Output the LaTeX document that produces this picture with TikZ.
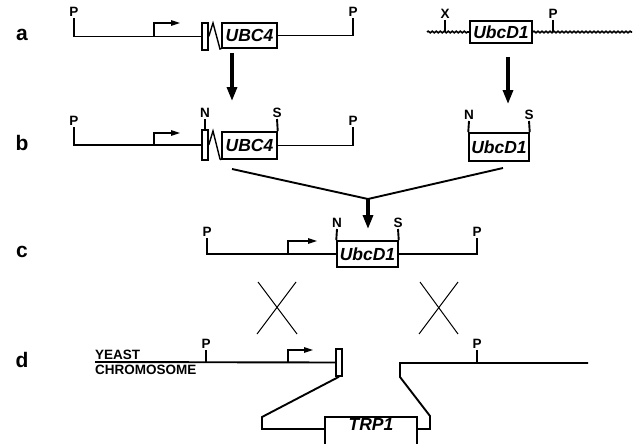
\documentclass[tikz,border=0pt]{standalone}
\usepackage{fontspec}
\setmainfont{Liberation Sans}
\usepackage{tikz}
\usetikzlibrary{arrows.meta, decorations.pathmorphing}

\newcommand{\genefont}{\fontsize{17.5}{19}\selectfont\bfseries\itshape}
\newcommand{\sitefont}{\fontsize{13.5}{15}\selectfont\bfseries}

\begin{document}
\begin{tikzpicture}[x=1pt, y=-1pt,
    dna/.style={line width=1.9pt},
    genebox/.style={draw, line width=1.5pt, inner sep=0pt, font=\genefont},
    exonbox/.style={draw, line width=1.5pt, inner sep=0pt, minimum width=6pt},
    site/.style={font=\sitefont, inner sep=1.2pt, anchor=south},
    rowlbl/.style={font=\fontsize{21}{23}\selectfont\bfseries},
    chromlbl/.style={font=\fontsize{13.5}{15}\selectfont\bfseries, inner sep=0pt},
    prom/.style={line width=1.2pt, -{Triangle[length=9pt,width=5.5pt]}},
    bigarrow/.style={line width=3.2pt, -{Triangle[length=14pt,width=10pt]}},
    cross/.style={line width=1pt},
    wavy/.style={line width=1.6pt, decorate, decoration={snake, segment length=4pt, amplitude=0.8pt}},
    zig/.style={line width=1.4pt},
  ]
  \path[use as bounding box] (0,0) rectangle (634,444);
  \clip (0,0) rectangle (634,444);

  % row labels
  \node[rowlbl] (lbla) at (22,35) {a};
  \node[rowlbl] (lblb) at (22,143) {b};
  \node[rowlbl] (lblc) at (22,252) {c};
  \node[rowlbl] (lbld) at (22,360) {d};

  % a: UBC4 locus
  \coordinate (pa1) at (74,18);
  \coordinate (pa2) at (353,18);
  \node[exonbox, minimum height=27pt] (exa) at (205,36.5) {};
  \node[genebox, minimum width=55pt, minimum height=25pt] (ubca) at (249.5,35.5) {UBC4};
  \draw[dna] (pa1) |- (exa.west);
  \draw[dna] (ubca.east) -| (pa2);
  \draw[zig] (exa.east) -- (213,23) -- (220,49) -- (ubca.south west);
  \node[site] (pa1t) at (pa1) {P};
  \node[site] (pa2t) at (pa2) {P};
  \coordinate (proma) at (154,36);
  \draw[prom] (proma) -- ++(0,-13) -- ++(26,0);

  % a: UbcD1 genomic
  \coordinate (wl) at (427,32);
  \coordinate (wr) at (632,32);
  \node[genebox, minimum width=62pt, minimum height=22pt] (dra) at (501,32) {UbcD1};
  \draw[wavy] (wl) -- (dra.west);
  \draw[wavy] (dra.east) -- (wr);
  \coordinate (xa) at (445,20);
  \coordinate (pa3) at (553,20);
  \draw[dna] (xa) -- (xa |- wl);
  \draw[dna] (pa3) -- (pa3 |- wl);
  \node[site] (xat) at (xa) {X};
  \node[site] (pa3t) at (pa3) {P};

  % a -> b
  \coordinate (arl1) at (232,53);
  \coordinate (arl2) at (232,101);
  \coordinate (arr1) at (508,57);
  \coordinate (arr2) at (508,104);
  \draw[bigarrow] (arl1) -- (arl2);
  \draw[bigarrow] (arr1) -- (arr2);

  % b: UBC4 with sites
  \coordinate (pb1) at (74,127);
  \coordinate (pb2) at (353,127);
  \node[exonbox, minimum height=30pt] (exb) at (205,145) {};
  \node[genebox, minimum width=55pt, minimum height=27pt] (ubcb) at (249.5,145.5) {UBC4};
  \draw[dna] (pb1) |- (exb.west);
  \draw[dna] (ubcb.east) -| (pb2);
  \draw[zig] (exb.east) -- (213,131) -- (220,159) -- (ubcb.south west);
  \node[site] (pb1t) at (pb1) {P};
  \node[site] (pb2t) at (pb2) {P};
  \coordinate (promb) at (154,145);
  \draw[prom] (promb) -- ++(0,-12) -- ++(26,0);
  \coordinate (nb) at (205,119);
  \coordinate (sb) at (277,119);
  \draw[dna] (exb.north) -- (nb);
  \draw[dna] (ubcb.north east) -- (sb);
  \node[site] (nbt) at (nb) {N};
  \node[site] (sbt) at (sb) {S};

  % b: UbcD1 fragment
  \node[genebox, minimum width=60pt, minimum height=28pt] (drb) at (499,147) {UbcD1};
  \coordinate (nb2) at (469,121);
  \coordinate (sb2) at (529,121);
  \draw[dna] (drb.north west) -- (nb2);
  \draw[dna] (drb.north east) -- (sb2);
  \node[site] (nb2t) at (nb2) {N};
  \node[site] (sb2t) at (sb2) {S};

  % b -> c
  \coordinate (mgl) at (232,169);
  \coordinate (mgr) at (503,168);
  \coordinate (mg) at (368,199);
  \coordinate (mge) at (368,229);
  \draw[dna] (mgl) -- (mg) -- (mgr);
  \draw[bigarrow] (mg) -- (mge);

  % c: replacement construct
  \coordinate (pc1) at (207,238);
  \coordinate (pc2) at (477,238);
  \node[genebox, minimum width=61pt, minimum height=26pt] (drc) at (367.5,254) {UbcD1};
  \draw[dna] (pc1) |- (drc.west);
  \draw[dna] (drc.east) -| (pc2);
  \node[site] (pc1t) at (pc1) {P};
  \node[site] (pc2t) at (pc2) {P};
  \coordinate (promc) at (288,254);
  \draw[prom] (promc) -- ++(0,-13) -- ++(29,0);
  \coordinate (nc) at (337,229);
  \coordinate (sc) at (398,229);
  \draw[dna] (drc.north west) -- (nc);
  \draw[dna] (drc.north east) -- (sc);
  \node[site] (nct) at (nc) {N};
  \node[site] (sct) at (sc) {S};

  % crossovers
  \draw[cross] (258,282) -- (297,334);
  \draw[cross] (296,282) -- (257,334);
  \draw[cross] (420,282) -- (458,334);
  \draw[cross] (458,282) -- (419,334);

  % d: chromosome with TRP1 insertion
  \coordinate (yl) at (95,362);
  \node[chromlbl, anchor=south west] (yeast) at ([yshift=2pt]yl) {YEAST};
  \node[chromlbl, anchor=north west] (chrom) at ([yshift=-2.5pt]yl) {CHROMOSOME};
  \node[exonbox, minimum height=27pt] (exd) at (339,362.5) {};
  \draw[dna] (yl) -- (exd.west);
  \coordinate (pd1) at (206,350);
  \draw[dna] (pd1) -- (pd1 |- yl);
  \node[site] (pd1t) at (pd1) {P};
  \coordinate (promd) at (288,362);
  \draw[prom] (promd) -- ++(0,-12) -- ++(25,0);

  \node[genebox, minimum width=92pt, minimum height=60pt, anchor=north] (trp) at (371,416) {};
  \node[font=\genefont] (trpt) at (371,424) {TRP1};
  \draw[dna] (exd.south) -- (262,417) -- (262,429) -- ([yshift=-13pt]trp.north west);
  \coordinate (rd) at (588,363);
  \draw[dna] ([yshift=-13pt]trp.north east) -- (430,429) -- (430,416) -- (400,377) -- (400,363) -- (rd);
  \coordinate (pd2) at (477,350);
  \draw[dna] (pd2) -- (pd2 |- rd);
  \node[site] (pd2t) at (pd2) {P};
\end{tikzpicture}
\end{document}
